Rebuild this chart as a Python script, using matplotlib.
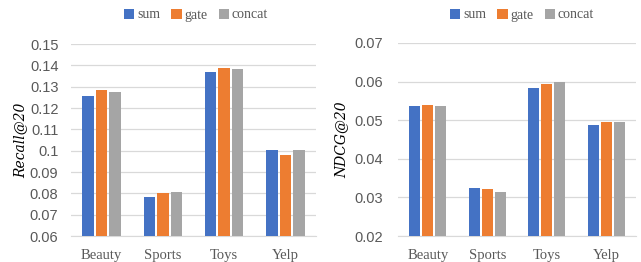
import matplotlib.pyplot as plt
import numpy as np

categories = ["Beauty", "Sports", "Toys", "Yelp"]
series = ["sum", "gate", "concat"]
colors = ["#4472C4", "#ED7D31", "#A5A5A5"]

recall_sum = [0.1257, 0.0782, 0.1367, 0.1005]
recall_gate = [0.1283, 0.0800, 0.1387, 0.0980]
recall_concat = [0.1274, 0.0807, 0.1381, 0.1002]

ndcg_sum = [0.0537, 0.0324, 0.0584, 0.0488]
ndcg_gate = [0.0540, 0.0322, 0.0593, 0.0495]
ndcg_concat = [0.0537, 0.0315, 0.0598, 0.0495]

recall_ticks = [0.06, 0.07, 0.08, 0.09, 0.1, 0.11, 0.12, 0.13, 0.14, 0.15]
recall_ticklabels = ["0.06", "0.07", "0.08", "0.09", "0.1", "0.11", "0.12", "0.13", "0.14", "0.15"]
ndcg_ticks = [0.02, 0.03, 0.04, 0.05, 0.06, 0.07]
ndcg_ticklabels = ["0.02", "0.03", "0.04", "0.05", "0.06", "0.07"]

W, H = 641, 262
fig = plt.figure(figsize=(W / 100, H / 100), dpi=100)

def draw(rect, data, ticks, ticklabels, ylabel, legend_x, ypad, lpad):
    ax = fig.add_axes([rect[0] / W, 1 - rect[3] / H, (rect[2] - rect[0]) / W, (rect[3] - rect[1]) / H])
    x = np.arange(len(categories))
    for i, (vals, name, c) in enumerate(zip(data, series, colors)):
        ax.bar(x + (i - 1) * 0.22, vals, width=0.19, color=c, label=name, zorder=3)
    ax.set_xlim(-0.5, 3.5)
    ax.set_ylim(ticks[0], ticks[-1])
    ax.set_yticks(ticks)
    ax.set_yticklabels(ticklabels, fontsize=10.5, color="#595959", family="Liberation Sans")
    ax.set_xticks(x)
    ax.set_xticklabels(categories, fontsize=10.5, color="#595959", family="Liberation Serif")
    ax.grid(axis="y", color="#D9D9D9", linewidth=0.9, zorder=0)
    for s in ["top", "right", "left"]:
        ax.spines[s].set_visible(False)
    ax.spines["bottom"].set_color("#D9D9D9")
    ax.tick_params(axis="y", length=0, pad=ypad)
    ax.tick_params(axis="x", length=0, pad=9)
    ax.set_ylabel(ylabel, fontsize=10, family="DejaVu Serif", style="italic", labelpad=lpad)
    leg = ax.legend(loc="center", bbox_to_anchor=(legend_x / W, 1 - 15 / H),
                    bbox_transform=fig.transFigure, ncol=3, frameon=False,
                    prop={"family": "Liberation Serif", "size": 10},
                    handlelength=0.75, handleheight=0.75, handletextpad=0.2, columnspacing=0.8)
    for t in leg.get_texts():
        t.set_color("#595959")
    return ax

draw((71, 44, 316, 236), [recall_sum, recall_gate, recall_concat], recall_ticks, recall_ticklabels, "Recall@20", 196, 9, 2)
draw((398, 43, 636, 236), [ndcg_sum, ndcg_gate, ndcg_concat], ndcg_ticks, ndcg_ticklabels, "NDCG@20", 522, 11, 4)

fig.savefig("out.png", dpi=100)
